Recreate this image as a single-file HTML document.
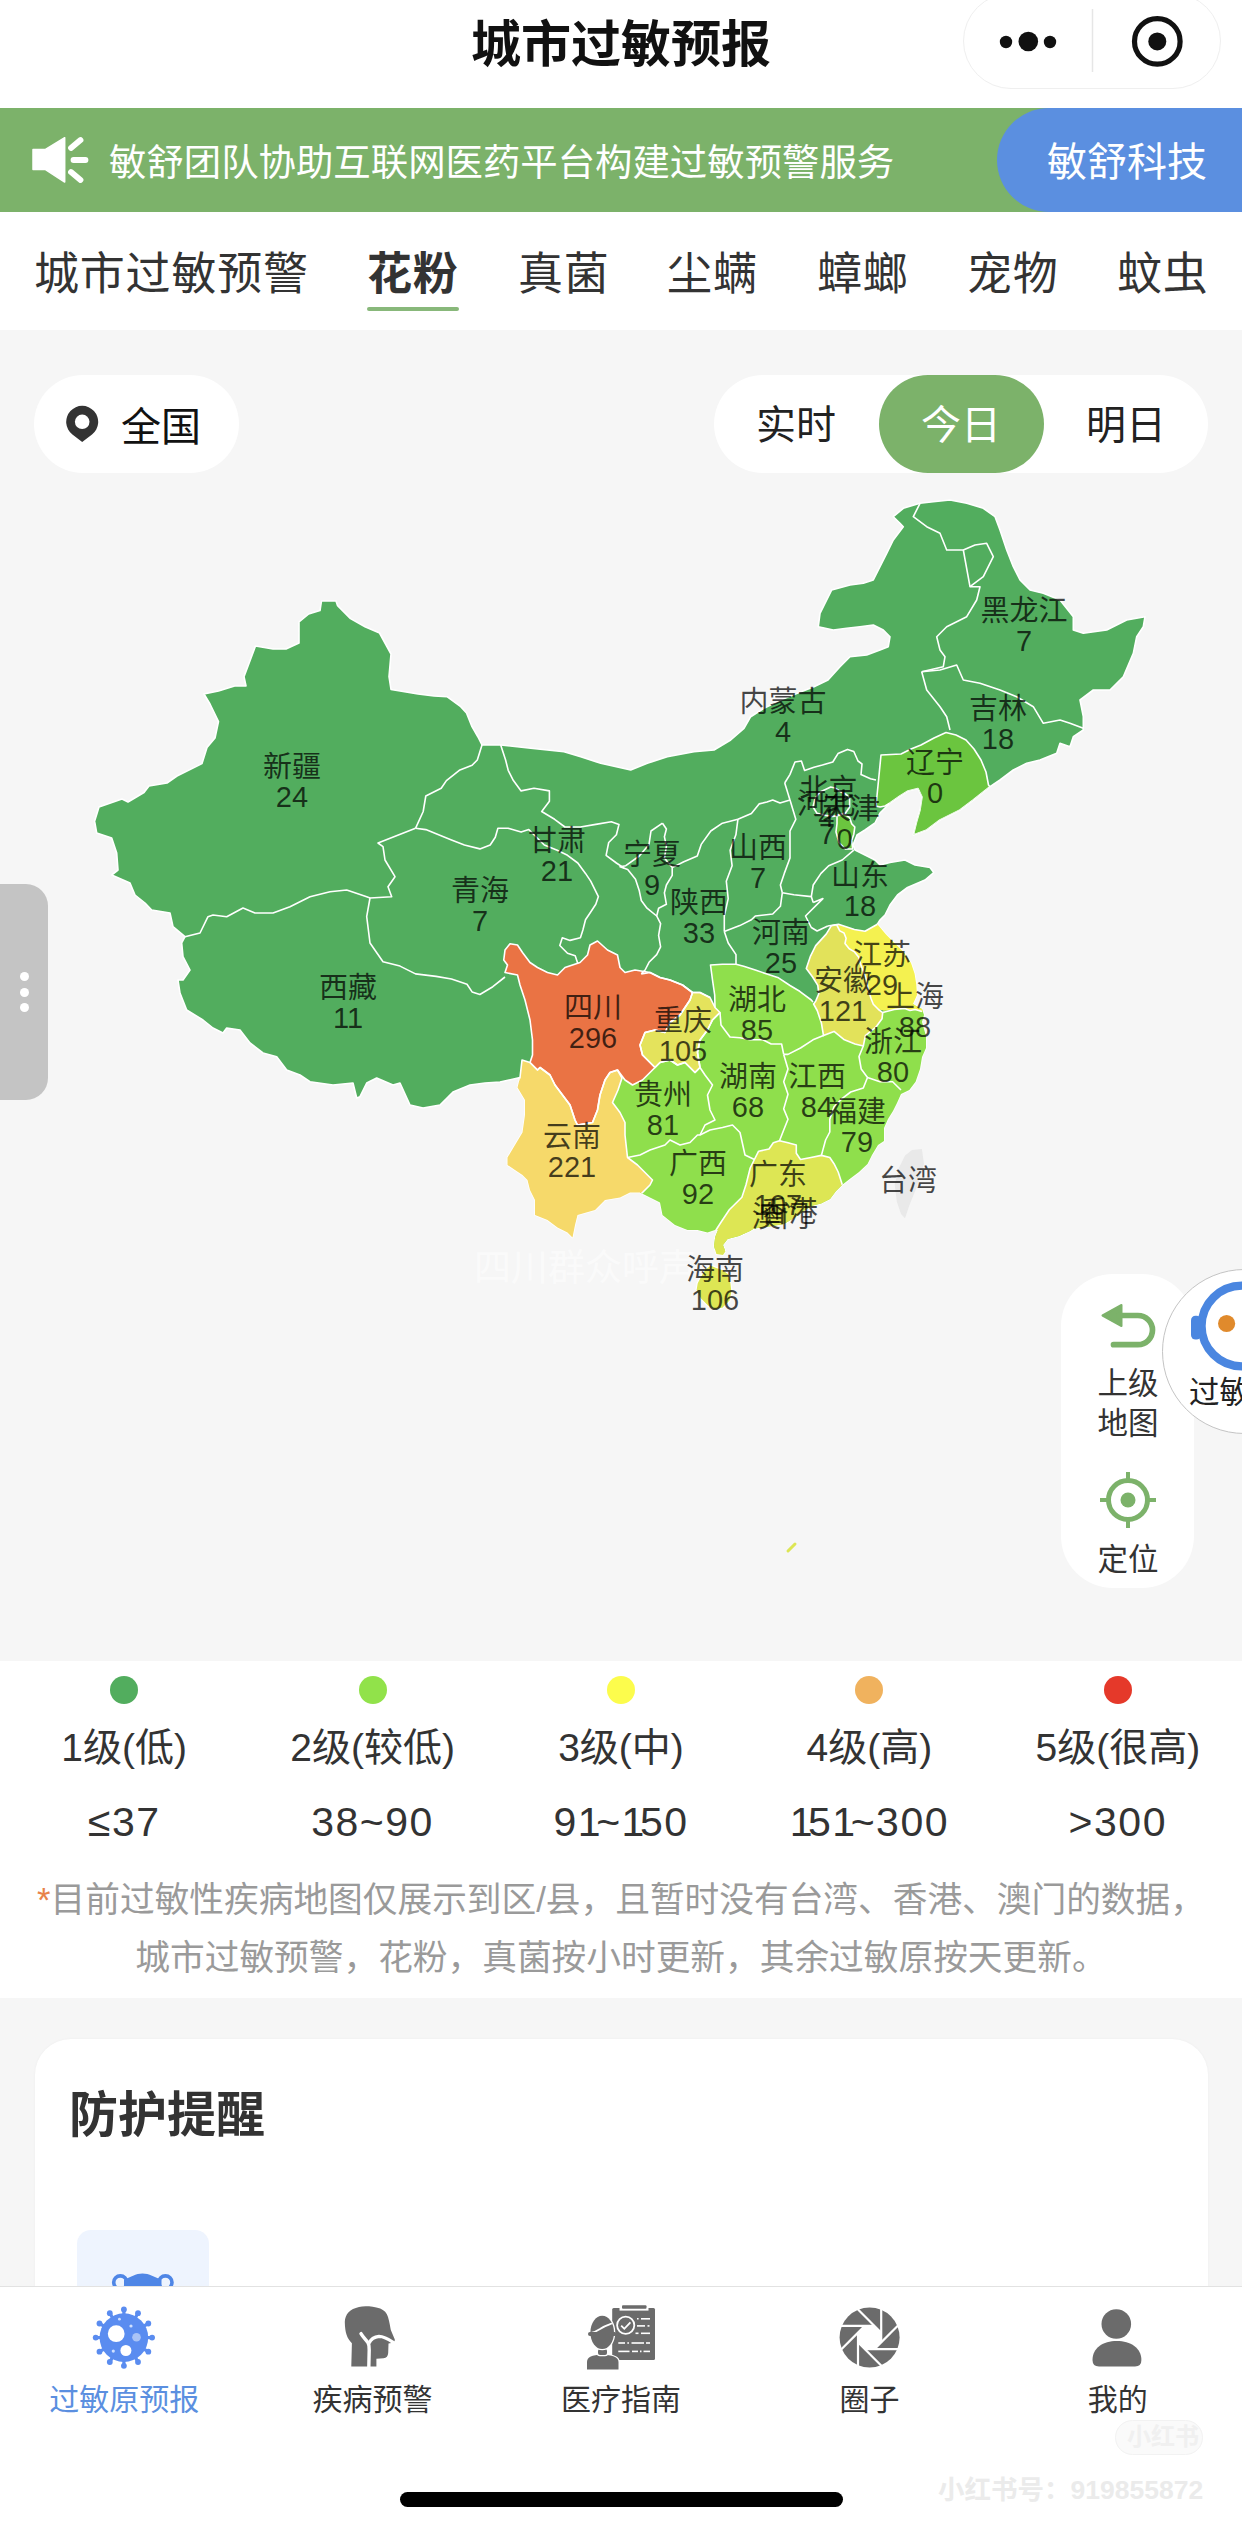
<!DOCTYPE html><html lang="zh-CN"><head><meta charset="utf-8"><title>城市过敏预报</title><style>
*{margin:0;padding:0;box-sizing:border-box}
html,body{width:1242px;height:2532px;overflow:hidden;background:#f6f6f6}
body{position:relative;font-family:"Liberation Sans","Noto Sans CJK SC",sans-serif;color:#333}
.abs{position:absolute}
.nav{left:0;top:0;width:1242px;height:108px;background:#fff}
.title{left:0;width:1242px;top:15px;text-align:center;font-size:50px;font-weight:700;color:#111;line-height:60px}
.capsule{left:963px;top:-7px;width:258px;height:96px;border:1.5px solid #efefef;border-radius:48px;background:#fff}
.banner{left:0;top:108px;width:1242px;height:104px;background:#7cb26a}
.bantext{left:109px;top:135px;font-size:37.4px;line-height:56px;color:#fff;white-space:nowrap}
.pill{left:997px;top:108px;width:300px;height:104px;background:#5b8fe0;border-radius:52px 0 0 52px}
.pilltext{left:1047px;top:132px;font-size:40px;line-height:60px;color:#fff;white-space:nowrap}
.tabs{left:0;top:212px;width:1242px;height:118px;background:#fff}
.tab{top:247px;font-size:45px;line-height:56px;color:#333;white-space:nowrap;letter-spacing:0.8px}
.tab.on{font-weight:700;color:#333}
.uline{left:367px;top:307px;width:92px;height:4px;background:#88b87a;border-radius:2px}
.mapbg{left:0;top:330px;width:1242px;height:1331px;background:#f6f6f6}
.chip{background:#fff;border-radius:49px;height:98px;top:375px}
.map{position:absolute;left:0;top:330px}
.lbl text{font-family:"Liberation Sans","Noto Sans CJK SC",sans-serif;font-size:29px;fill:#000;fill-opacity:0.72;text-anchor:middle}
.legend{left:0;top:1661px;width:1242px;height:337px;background:#fff}
.dot{width:28px;height:28px;border-radius:50%;top:1676px}
.lv{top:1724px;font-size:39px;line-height:48px;color:#333;width:248px;text-align:center;white-space:nowrap}
.rg{top:1797px;font-size:41px;line-height:50px;color:#333;width:248px;text-align:center;white-space:nowrap;letter-spacing:1.5px}
.rg i{font-style:normal;letter-spacing:-4.5px}
.note{left:0;width:1242px;text-align:center;font-size:34.7px;line-height:44px;color:#9a9a9a;white-space:nowrap}
.card{left:35px;top:2039px;width:1173px;height:400px;background:#fff;border-radius:36px;box-shadow:0 0 3px rgba(0,0,0,0.04)}
.cardtitle{left:69px;top:2085px;font-size:49px;line-height:60px;font-weight:700;color:#333}
.tabbar{left:0;top:2285.5px;width:1242px;height:247px;background:#fff;border-top:1.5px solid #e2e2e2}
.tbl{top:2380px;font-size:30px;line-height:40px;color:#333;width:248px;text-align:center;white-space:nowrap}
</style></head><body>
<div class="abs nav"></div>
<div class="abs title">城市过敏预报</div>
<div class="abs capsule"></div>
<svg class="abs" style="left:963px;top:0" width="258" height="90" viewBox="963 0 258 90"><line x1="1092.5" y1="9" x2="1092.5" y2="72" stroke="#e6e6e6" stroke-width="1.5"/><circle cx="1006" cy="42" r="6.2" fill="#111"/><circle cx="1028.3" cy="41.5" r="9.8" fill="#111"/><circle cx="1050" cy="42" r="6.2" fill="#111"/><circle cx="1157.3" cy="41.4" r="22.8" fill="none" stroke="#111" stroke-width="5.2"/><circle cx="1157.3" cy="41.4" r="9" fill="#111"/></svg>
<div class="abs banner"></div>
<svg class="abs" style="left:0;top:108px" width="100" height="104" viewBox="0 108 100 104"><path d="M33 149.5 H45.5 L64.7 137.7 V182.1 L45.5 169.6 H33 Z" fill="#fff" stroke="#fff" stroke-width="1.5" stroke-linejoin="round"/><g stroke="#fff" stroke-width="5.8" stroke-linecap="round"><line x1="71" y1="148" x2="80.5" y2="140"/><line x1="73.5" y1="160" x2="85.5" y2="160"/><line x1="71" y1="172" x2="80.5" y2="180"/></g></svg>
<div class="abs bantext">敏舒团队协助互联网医药平台构建过敏预警服务</div>
<div class="abs pill"></div>
<div class="abs pilltext">敏舒科技</div>
<div class="abs tabs"></div>
<div class="abs tab" style="left:34px">城市过敏预警</div>
<div class="abs tab on" style="left:367px">花粉</div>
<div class="abs tab" style="left:518px">真菌</div>
<div class="abs tab" style="left:667px">尘螨</div>
<div class="abs tab" style="left:817px">蟑螂</div>
<div class="abs tab" style="left:967px">宠物</div>
<div class="abs tab" style="left:1117px">蚊虫</div>
<div class="abs uline"></div>
<div class="abs mapbg"></div>
<div class="abs chip" style="left:34px;width:205px"></div>
<svg class="abs" style="left:60px;top:405px" width="44" height="44" viewBox="60 405 44 44"><path d="M82.2 442 L72.4 434.5 A16 16 0 1 1 92 434.5 Z" fill="#333"/><circle cx="82.2" cy="421.8" r="7.3" fill="#fff"/></svg>
<div class="abs" style="left:121px;top:402px;font-size:40px;line-height:50px;color:#111">全国</div>
<div class="abs chip" style="left:714px;width:494px"></div>
<div class="abs chip" style="left:879px;width:165px;background:#7cb26a"></div>
<div class="abs" style="left:756px;top:400px;font-size:40px;line-height:50px;color:#222">实时</div>
<div class="abs" style="left:921px;top:400px;font-size:40px;line-height:50px;color:#fff">今日</div>
<div class="abs" style="left:1086px;top:400px;font-size:40px;line-height:50px;color:#222">明日</div>
<svg class="map" width="1242" height="1330" viewBox="0 330 1242 1330">
<defs><clipPath id="ml"><polygon points="94.5,821.5 99,807 122,799 128,802 144,792.5 149,786 167,783 177,776 202,763.6 207,747.5 215,738 218.5,721.7 210,704 204,694 218.5,691 234.6,686 246,686 244,676.6 255.5,646 273,649 286,649 299,643 299,622 308.7,614 320,610.6 321.5,601 336,601 337.6,605.8 350.5,618.6 365,626.7 379.5,633 391,654 389,676.6 391,689.5 418,694 434,696 447,696.7 460.7,706.7 466.5,713 472,726.7 478,737 482,745 500.7,745 530.7,748.3 564,751.7 580.7,756.7 600.7,763.3 630.7,770 647.3,763.3 667.3,756.7 694,751.7 714,750 730.7,740 744,728.3 750.7,716.7 764,708.3 780.7,700 797.3,693.3 814,686.7 828,680 840,666.7 850,656.7 866.7,655 880,650 888.3,646.7 890,636.7 883.3,630 873.3,625 860,626.7 846.7,628.3 833.3,630 818.3,626.7 820,613.3 826.7,600 831.7,590 850,585 863.3,583.3 873.3,580 880,566.7 886.7,553.3 893.3,540 903.3,526.7 900,523.3 893.3,516.7 903.3,508.3 920,503.3 933.3,501.7 950,500 966.7,503.3 983.3,508.3 995,516.7 1000,530 1006.7,550 1013.3,566.7 1020,580 1030,590 1043.3,593.3 1060,600 1073.3,616.7 1073.3,630 1083.3,633.3 1106.7,630 1126.7,620 1145,616.7 1143.3,626.7 1136.7,636.7 1133.3,653.3 1123.3,676.7 1110,690 1093.3,690 1080,700 1083.3,716.7 1083.3,730 1073.3,736.7 1070,746.7 1060,743.3 1056.7,753.3 1040,760 1026.7,763.3 1013.3,770 1000,780 990,786.7 973.3,800 960,810 940,820 926.7,830 913.3,835 916.5,822 920,810 922,797 918,788.5 908,791 900,796 890,803 885,808 880,813 875,823 865,830 857,835 853,845 855,850 865,855 875,860 880,865 890,862.5 905,860 915,865 930,867.5 933.75,872.5 925,880 907.5,887.5 897.5,895 890,905 885,915 880,920 877.4,924.2 886.2,934.8 895,943.6 904,952.5 911,963.1 914.6,973.8 916.3,984.4 917,995 913,1004 916,1006 922,1009 924,1015 922,1022 926,1036 926,1048 922,1057 920,1069 915.6,1081.7 909.3,1090 901,1094 897,1103 893,1111 888,1119 884,1128 884,1141 878,1145 872,1155 867.5,1164 859,1172 851,1178 842,1185 836,1191 830,1199 821,1203.5 813,1205.6 805,1210 794,1218 784,1224 769,1226.5 754,1228.6 750,1231 739,1236 727.6,1239 723,1245 725.4,1251.6 723,1255 716.4,1254 714,1246 715.2,1237 718,1230 715,1230 707.5,1232.5 697.5,1230 687.5,1230 675,1225 662.5,1215 660,1202.5 645,1195 640,1192.5 630,1192.5 620,1197.5 605,1200 595,1210 577.5,1215 575,1225 572.5,1237.5 567.5,1232.5 557.5,1227.5 547.5,1220 535,1215 535,1200 530,1190 527.5,1180 522.5,1175 515,1170 507.5,1165 507.5,1157.5 515,1145 522.5,1132.5 525,1115 525,1100 517.5,1087.5 520,1077.5 500,1082 485,1083 470,1085 453,1092 440,1105 423,1108 410,1105 400,1083 393,1085 376.7,1078 366.7,1083 360,1096.7 356.7,1098 353,1083 333,1085 310,1081.7 300,1075 286.7,1070 276.7,1056.7 263,1053 250,1043 240,1030 226.7,1028 223,1033 213,1028 203,1020 186.7,1010 180,993 178,980 183,980 190,970 183,956.7 181.7,943 185,936.7 173,926.7 170,913 151.7,910 145,903 135,895 130,883 111.7,875 118,870 116.7,853 111.7,838 96.7,833 95,823.3"/></clipPath></defs>
<polygon points="94.5,821.5 99,807 122,799 128,802 144,792.5 149,786 167,783 177,776 202,763.6 207,747.5 215,738 218.5,721.7 210,704 204,694 218.5,691 234.6,686 246,686 244,676.6 255.5,646 273,649 286,649 299,643 299,622 308.7,614 320,610.6 321.5,601 336,601 337.6,605.8 350.5,618.6 365,626.7 379.5,633 391,654 389,676.6 391,689.5 418,694 434,696 447,696.7 460.7,706.7 466.5,713 472,726.7 478,737 482,745 500.7,745 530.7,748.3 564,751.7 580.7,756.7 600.7,763.3 630.7,770 647.3,763.3 667.3,756.7 694,751.7 714,750 730.7,740 744,728.3 750.7,716.7 764,708.3 780.7,700 797.3,693.3 814,686.7 828,680 840,666.7 850,656.7 866.7,655 880,650 888.3,646.7 890,636.7 883.3,630 873.3,625 860,626.7 846.7,628.3 833.3,630 818.3,626.7 820,613.3 826.7,600 831.7,590 850,585 863.3,583.3 873.3,580 880,566.7 886.7,553.3 893.3,540 903.3,526.7 900,523.3 893.3,516.7 903.3,508.3 920,503.3 933.3,501.7 950,500 966.7,503.3 983.3,508.3 995,516.7 1000,530 1006.7,550 1013.3,566.7 1020,580 1030,590 1043.3,593.3 1060,600 1073.3,616.7 1073.3,630 1083.3,633.3 1106.7,630 1126.7,620 1145,616.7 1143.3,626.7 1136.7,636.7 1133.3,653.3 1123.3,676.7 1110,690 1093.3,690 1080,700 1083.3,716.7 1083.3,730 1073.3,736.7 1070,746.7 1060,743.3 1056.7,753.3 1040,760 1026.7,763.3 1013.3,770 1000,780 990,786.7 973.3,800 960,810 940,820 926.7,830 913.3,835 916.5,822 920,810 922,797 918,788.5 908,791 900,796 890,803 885,808 880,813 875,823 865,830 857,835 853,845 855,850 865,855 875,860 880,865 890,862.5 905,860 915,865 930,867.5 933.75,872.5 925,880 907.5,887.5 897.5,895 890,905 885,915 880,920 877.4,924.2 886.2,934.8 895,943.6 904,952.5 911,963.1 914.6,973.8 916.3,984.4 917,995 913,1004 916,1006 922,1009 924,1015 922,1022 926,1036 926,1048 922,1057 920,1069 915.6,1081.7 909.3,1090 901,1094 897,1103 893,1111 888,1119 884,1128 884,1141 878,1145 872,1155 867.5,1164 859,1172 851,1178 842,1185 836,1191 830,1199 821,1203.5 813,1205.6 805,1210 794,1218 784,1224 769,1226.5 754,1228.6 750,1231 739,1236 727.6,1239 723,1245 725.4,1251.6 723,1255 716.4,1254 714,1246 715.2,1237 718,1230 715,1230 707.5,1232.5 697.5,1230 687.5,1230 675,1225 662.5,1215 660,1202.5 645,1195 640,1192.5 630,1192.5 620,1197.5 605,1200 595,1210 577.5,1215 575,1225 572.5,1237.5 567.5,1232.5 557.5,1227.5 547.5,1220 535,1215 535,1200 530,1190 527.5,1180 522.5,1175 515,1170 507.5,1165 507.5,1157.5 515,1145 522.5,1132.5 525,1115 525,1100 517.5,1087.5 520,1077.5 500,1082 485,1083 470,1085 453,1092 440,1105 423,1108 410,1105 400,1083 393,1085 376.7,1078 366.7,1083 360,1096.7 356.7,1098 353,1083 333,1085 310,1081.7 300,1075 286.7,1070 276.7,1056.7 263,1053 250,1043 240,1030 226.7,1028 223,1033 213,1028 203,1020 186.7,1010 180,993 178,980 183,980 190,970 183,956.7 181.7,943 185,936.7 173,926.7 170,913 151.7,910 145,903 135,895 130,883 111.7,875 118,870 116.7,853 111.7,838 96.7,833 95,823.3" fill="#52ad5e" stroke="#fff" stroke-width="1.6" stroke-linejoin="round"/>
<g clip-path="url(#ml)">
<polygon points="710,965 722,964.3 736,964.3 743.7,966.2 755.3,970 766.9,974 778.5,977.8 790,985.5 799.7,991.3 811.3,1000 813,1002 817.2,1010.5 821.4,1023 823.5,1035.6 834,1031.4 844.4,1039.8 855,1044 863.3,1046 865.4,1035.6 875.8,1027.2 882,1018.8 883.8,1006 894.2,1004 960,1004 960,1250 640,1250 640,1192.5 650,1185 652.5,1180 645,1172.5 637.5,1165 627.5,1157.5 625,1135 625,1122.5 620,1112.5 612.5,1102.5 618,1090 622,1078 617.5,1070 650,1060 690,1040 712,1020 715,1007.5 714.7,995 712.5,980 710.5,965" fill="#8fdf4c"/>
<polygon points="842.3,1184.7 838.2,1172 834,1163.7 829.8,1157.5 821.4,1155.4 811,1157.5 800.5,1159.5 796.3,1153.3 796.3,1145 788,1142.8 779.5,1140.7 773.3,1142.8 769,1149 758.6,1151.2 754.4,1159.5 750.2,1168 746,1184.7 741.9,1197.2 729.3,1209.8 721,1222.3 716,1230 700,1270 780,1270 880,1200" fill="#dde654"/>
<polygon points="827.8,926 838.5,924.2 854.4,929.5 865,931.3 877.4,924.2 960,924 960,1012 920.4,1011.6 915.2,1009.5 910,1010.5 904.7,1008.4 894.2,1009.5 883.8,1010.5 878.5,1009.5 873.3,1004.2 871.2,999 868.1,989.6 867,981.2 863.9,972.8 860.7,964.5 858.6,957.1 854.5,951.9 849.2,948.7 845,943.5 846.1,938.3 844,933 839.8,930.9 836.6,924.7" fill="#f4f150"/>
<polygon points="831.4,925.7 836.6,924.7 839.8,930.9 844,933 846.1,938.3 845,943.5 849.2,948.7 854.5,951.9 858.6,957.1 860.7,964.5 863.9,972.8 867,981.2 868.1,989.6 871.2,999 873.3,1004.2 878.5,1009.5 882.7,1012.6 882,1018.8 875.8,1027.2 865.4,1035.6 863.3,1046 855,1044 844.4,1039.8 834,1031.4 823.5,1035.6 821.4,1023 817.2,1010.5 813.6,1004 815.7,1001.1 818.8,993.8 817.8,985.4 812.6,977 806.3,968.6 810.5,956.1 815.7,945.6 826.2,934.1" fill="#e2e25a"/>
<polygon points="522,1060 530,1062.5 537.5,1070 540,1067.5 550,1075 555,1085 562.5,1095 570,1105 575,1120 577.5,1125 592.5,1122.5 597.5,1110 600,1095 605,1080 610,1072.5 617.5,1070 622,1078 618,1090 612.5,1102.5 620,1112.5 625,1122.5 625,1135 627.5,1157.5 637.5,1165 645,1172.5 652.5,1180 650,1185 640,1195 600,1260 500,1260 500,1092 515,1086 520,1077.5" fill="#f6d96a"/>
<polygon points="692.5,992.5 700,992.5 710,997.5 715,1007.5 720,1012.5 712.5,1020 707.5,1030 700,1040 697.5,1052.5 700,1067.5 695,1072.5 685,1062.5 677.5,1065 670,1060 660,1062.5 655,1067.5 650,1062.5 642.5,1055 640,1045 645,1032.5 655,1030 665,1032.5 670,1022.5 680,1015 690,1000" fill="#e4e35c"/>
<polygon points="510,943.75 505,950 503.75,960 507.5,965 505,972.5 517.5,975 520,985 525,1000 530,1020 532.5,1040 532.5,1055 530,1062.5 537.5,1070 540,1067.5 550,1075 555,1085 562.5,1095 570,1105 575,1120 577.5,1125 592.5,1122.5 597.5,1110 600,1095 605,1080 610,1072.5 617.5,1070 625,1080 632.5,1085 642.5,1080 650,1072.5 655,1067.5 650,1062.5 642.5,1055 640,1045 645,1032.5 655,1030 665,1032.5 670,1022.5 680,1015 690,1000 692.5,992.5 682.5,985 670,980 660,977.5 650,972.5 635,970 625,972.5 620,967.5 617.5,955 607.5,950 597.5,941 590,945 587.5,955 580,962.5 572.5,965 565,967.5 557.5,975 547.5,972.5 537.5,967.5 530,962.5 522.5,952.5 517.5,945" fill="#ea7344" stroke="#fff" stroke-width="1.6" stroke-linejoin="round"/>
<polygon points="876,806 881,755 891,754.5 901,754 911,749 921,745 934,738 946,732.5 956,735 966,740 974,749 981,760 986,772 988.5,785 990,786.7 973.3,800 960,810 940,820 926.7,830 913.3,835 916.5,822 920,810 922,797 918,788.5 908,791 900,796 890,803 885,806 880,807" fill="#6bc53f" stroke="#fff" stroke-width="1.6" stroke-linejoin="round"/>
<polygon points="837,815.4 843.3,813.3 849.6,817.5 851.7,823.8 854.8,827 853.8,834.2 851.7,840.5 852.7,849 845.4,849 839,842.6 836,832 837,823.8" fill="#6bc53f" stroke="#fff" stroke-width="1.6"/>
<polygon points="692.5,992.5 700,992.5 710,997.5 715,1007.5 720,1012.5 712.5,1020 707.5,1030 700,1040 697.5,1052.5 700,1067.5 695,1072.5 685,1062.5 677.5,1065 670,1060 660,1062.5 655,1067.5 650,1062.5 642.5,1055 640,1045 645,1032.5 655,1030 665,1032.5 670,1022.5 680,1015 690,1000" fill="none" stroke="#fff" stroke-width="1.6" stroke-linejoin="round"/>
<polygon points="831.4,925.7 836.6,924.7 839.8,930.9 844,933 846.1,938.3 845,943.5 849.2,948.7 854.5,951.9 858.6,957.1 860.7,964.5 863.9,972.8 867,981.2 868.1,989.6 871.2,999 873.3,1004.2 878.5,1009.5 882.7,1012.6 882,1018.8 875.8,1027.2 865.4,1035.6 863.3,1046 855,1044 844.4,1039.8 834,1031.4 823.5,1035.6 821.4,1023 817.2,1010.5 813.6,1004 815.7,1001.1 818.8,993.8 817.8,985.4 812.6,977 806.3,968.6 810.5,956.1 815.7,945.6 826.2,934.1" fill="none" stroke="#fff" stroke-width="1.6" stroke-linejoin="round"/>
<polygon points="522,1060 530,1062.5 537.5,1070 540,1067.5 550,1075 555,1085 562.5,1095 570,1105 575,1120 577.5,1125 592.5,1122.5 597.5,1110 600,1095 605,1080 610,1072.5 617.5,1070 622,1078 618,1090 612.5,1102.5 620,1112.5 625,1122.5 625,1135 627.5,1157.5 637.5,1165 645,1172.5 652.5,1180 650,1185 640,1195 600,1260 500,1260 500,1092 515,1086 520,1077.5" fill="none" stroke="#fff" stroke-width="1.6" stroke-linejoin="round"/>
<polygon points="842.3,1184.7 838.2,1172 834,1163.7 829.8,1157.5 821.4,1155.4 811,1157.5 800.5,1159.5 796.3,1153.3 796.3,1145 788,1142.8 779.5,1140.7 773.3,1142.8 769,1149 758.6,1151.2 754.4,1159.5 750.2,1168 746,1184.7 741.9,1197.2 729.3,1209.8 721,1222.3 716,1230 700,1270 780,1270 880,1200" fill="none" stroke="#fff" stroke-width="1.6" stroke-linejoin="round"/>
<polyline points="185,936.7 200,933 208,916.7 213,915 226.7,916.7 243,908 255,913 273,913 290,906.7 310,896.7 330,891.7 346.7,890 366.7,896.7 370,898" fill="none" stroke="#fff" stroke-width="1.6" stroke-linejoin="round"/>
<polyline points="370,898 391.7,896.7 388,886.7 395,876.7 385,860 383,846.7 378,843 415.5,828.3" fill="none" stroke="#fff" stroke-width="1.6" stroke-linejoin="round"/>
<polyline points="415.5,828.3 423.2,811.5 425.8,796 441.2,788.3 446.4,780.6 459.3,770.3 472.1,765.2 477.3,760 482,745" fill="none" stroke="#fff" stroke-width="1.6" stroke-linejoin="round"/>
<polyline points="415.5,828.3 425.8,829.6 438.6,834.7 451.5,839.9 464.4,845 479.9,848.9 490.2,845 495.3,837.3 497.9,828.3 508.2,828.3 521.1,832.1 528.8,829.6 534,834.7 544.3,845 557.2,850.2 567.5,855.3 577.8,863 585.5,873.4 590.7,881.1 598.4,896.6 595.8,904.3 590.7,912 585.5,919.8 582.9,930 580.4,937.8 570,940.4 562.3,937.8 559.8,945.5 567.5,953.2 575.2,955.8 577.8,963.6" fill="none" stroke="#fff" stroke-width="1.6" stroke-linejoin="round"/>
<polyline points="370,898 366.7,916.7 370,943 383,961.7 400,966.1 415.5,973.9 436.1,976.4 451.5,979 467,984.2 472.1,991.9 479.9,994.5 492.8,986.7 505,977" fill="none" stroke="#fff" stroke-width="1.6" stroke-linejoin="round"/>
<polyline points="500.7,745 505.6,760 508.2,770.3 513.4,780.6 521.1,790.9 534,788.3 549.4,790.9 549.4,801.2 541.7,811.5 554.6,819.3 564.9,827 580.4,827 595.8,824.4 611.3,821.8 619,824.4 616.4,834.7 608.7,842.5 606.1,855.3 616.4,863 624.2,868.2" fill="none" stroke="#fff" stroke-width="1.6" stroke-linejoin="round"/>
<polyline points="662.5,823.2 651,831 649,844.4 639.3,856 625.8,865.7 620,866.7 627.7,869.6 635.5,879.2 639.3,890.8 641.3,900.5 647,908.2 656.7,916 658.6,908.2 666.4,904.3 664.4,892.8 666.4,885 672.2,875.4 672.2,867.6 664.4,858 666.4,846.4 664.4,836.7 666.4,829 662.5,823.2" fill="none" stroke="#fff" stroke-width="1.6" stroke-linejoin="round"/>
<polyline points="672.2,867.6 683.8,861.8 697.3,856 701.2,844.4 710.8,831 722.4,823.2 737.9,819.3" fill="none" stroke="#fff" stroke-width="1.6" stroke-linejoin="round"/>
<polyline points="737.9,819.3 751.4,813.5 759.1,803.9 766.9,802 772.7,800 780,803 790,800" fill="none" stroke="#fff" stroke-width="1.6" stroke-linejoin="round"/>
<polyline points="737.9,819.3 735.9,834.8 730.1,850.2 732.1,865.7 726.3,881.2 728.2,898.6 724.3,916 724.3,931.4" fill="none" stroke="#fff" stroke-width="1.6" stroke-linejoin="round"/>
<polyline points="790,800 795.8,819.3 790,831 790,858 784.3,873.4 780.4,885 782.3,892.8" fill="none" stroke="#fff" stroke-width="1.6" stroke-linejoin="round"/>
<polyline points="724.3,931.4 739.8,925.6 751.4,919.8 755.3,916 772.7,914 780.4,906.3 782.3,892.8" fill="none" stroke="#fff" stroke-width="1.6" stroke-linejoin="round"/>
<polyline points="782.3,892.8 793.9,894.7 811.3,896.6 813.2,902.4" fill="none" stroke="#fff" stroke-width="1.6" stroke-linejoin="round"/>
<polyline points="811.3,896.6 813.2,885 821,873.4 828.7,865.7 842.2,860 853.8,850.2" fill="none" stroke="#fff" stroke-width="1.6" stroke-linejoin="round"/>
<polyline points="813.2,902.4 822.9,898.6 805.5,916 811.3,927.5 817.1,931 827.8,926" fill="none" stroke="#fff" stroke-width="1.6" stroke-linejoin="round"/>
<polyline points="827.8,926 838.5,924.2 854.4,929.5 865,931.3 877.4,924.2" fill="none" stroke="#fff" stroke-width="1.6" stroke-linejoin="round"/>
<polyline points="724.3,931.4 728.2,943 736,954.6 736,964.3" fill="none" stroke="#fff" stroke-width="1.6" stroke-linejoin="round"/>
<polyline points="736,964.3 743.7,966.2 755.3,970 766.9,974 778.5,977.8 790,985.5 799.7,991.3 811.3,1000 813,1002" fill="none" stroke="#fff" stroke-width="1.6" stroke-linejoin="round"/>
<polyline points="736,964.3 722.4,964.3 710.5,965 712.5,980 714.7,995 715,1007.5" fill="none" stroke="#fff" stroke-width="1.6" stroke-linejoin="round"/>
<polyline points="641.3,973.9 650,972.5 660,977.5 670,980 682.5,985 692.5,992.5 700,992.5 710,997.5" fill="none" stroke="#fff" stroke-width="1.6" stroke-linejoin="round"/>
<polyline points="656.7,916 660.6,923.7 658.6,935.3 660.6,946.9 656.7,954.6 649,962.3 645.1,970 641.3,973.9" fill="none" stroke="#fff" stroke-width="1.6" stroke-linejoin="round"/>
<polyline points="784.7,783 789.9,774.6 795,762 801.4,761 804.6,770.4 814,767.2 822.4,765 832.8,762 838,753.6 847.5,749.4 853.8,751.5 858,761 862,764 861,774.6 870.5,778.7 876,780" fill="none" stroke="#fff" stroke-width="1.6" stroke-linejoin="round"/>
<polyline points="784.7,783 790,800" fill="none" stroke="#fff" stroke-width="1.6" stroke-linejoin="round"/>
<polyline points="820,792 826.5,789 830.7,787 835,788 841,792 846.4,794.5 849.6,798.6 849.6,807 845.4,813.3 839,815.4 832.8,816.4 825.5,815.4 817,813.3 813,807 815,798.6 820,792" fill="none" stroke="#fff" stroke-width="1.6" stroke-linejoin="round"/>
<polyline points="720,1012.5 721,1025 730,1037 740,1037.7 750.2,1039.8 762.8,1039.8 771.2,1044 781.6,1044 783.7,1054.4" fill="none" stroke="#fff" stroke-width="1.6" stroke-linejoin="round"/>
<polyline points="783.7,1054.4 788,1054.4 800.5,1048 813,1039.8 823.5,1035.6" fill="none" stroke="#fff" stroke-width="1.6" stroke-linejoin="round"/>
<polyline points="783.7,1054.4 788,1069 783.7,1081.7 788,1094.2 783.7,1108.9 788,1119.3 783.7,1130 779.5,1140.7" fill="none" stroke="#fff" stroke-width="1.6" stroke-linejoin="round"/>
<polyline points="863.3,1046 859,1056.5 861.2,1069 867.5,1077.5 863.3,1088 850.7,1092 842.3,1098.4 834,1106.8 829.8,1119.3 829.8,1132 825.6,1140 821.4,1155.4" fill="none" stroke="#fff" stroke-width="1.6" stroke-linejoin="round"/>
<polyline points="882.7,1012.6 894.2,1009.5 904.7,1008.4 910,1010.5 915.2,1009.5 922,1011.6" fill="none" stroke="#fff" stroke-width="1.6" stroke-linejoin="round"/>
<polyline points="867.5,1077.5 880,1081.7 892.6,1081.7 901,1090" fill="none" stroke="#fff" stroke-width="1.6" stroke-linejoin="round"/>
<polyline points="720,1012.5 712.5,1020 707.5,1030 700,1040 697.5,1052.5 700,1067.5 705,1075 712.5,1085 707.5,1095 710,1110 715,1120 705,1125 700,1135" fill="none" stroke="#fff" stroke-width="1.6" stroke-linejoin="round"/>
<polyline points="627.5,1157.5 640,1155 650,1150 665,1145 670,1140 680,1145 690,1142.5 697.5,1135 700,1135 710,1130 722.5,1127.5 732.5,1125 740,1132.5 745,1155 754.4,1159.5" fill="none" stroke="#fff" stroke-width="1.6" stroke-linejoin="round"/>
<polyline points="655,1067.5 660,1062.5 670,1060 677.5,1065 685,1062.5 695,1072.5 700,1067.5" fill="none" stroke="#fff" stroke-width="1.6" stroke-linejoin="round"/>
<polyline points="920,503.3 913.3,516.7 926.7,526.7 940,533.3 946.7,550 963.3,550 970,586.7 980,586.7 976.7,600 966.7,616.7 946.7,626.7 936.7,636.7 940,650 945,656.7 943.3,666.7 921.7,671.7" fill="none" stroke="#fff" stroke-width="1.6" stroke-linejoin="round"/>
<polyline points="963.3,550 975,545 986.7,543.3 993.3,556.7 983.3,576.7 970,586.7" fill="none" stroke="#fff" stroke-width="1.6" stroke-linejoin="round"/>
<polyline points="921.7,671.7 940,670 956.7,665 963.3,680 980,683.3 1000,690 1016.7,696.7 1033.3,706.7 1043.3,723.3 1060,720 1070,723.3 1083.3,728.3" fill="none" stroke="#fff" stroke-width="1.6" stroke-linejoin="round"/>
<polyline points="921.7,671.7 926.7,690 940,706.7 946.7,716.7 950,730" fill="none" stroke="#fff" stroke-width="1.6" stroke-linejoin="round"/>
</g>
<polygon points="710.7,1265 716.4,1267.4 723,1269.6 728.8,1274 731,1283 732,1292 730,1301 723,1308 714,1310 707.4,1305.7 700.6,1299 696,1290 697.2,1283 700.6,1276.4 705,1269" fill="#dde654" stroke="#fff" stroke-width="1.2"/>
<polygon points="905.1,1155.4 912,1150 921.9,1149 924,1163.7 917.7,1184.7 909.3,1205.6 905,1218.2 901,1214 896.8,1201.4 894.7,1184.7 898.9,1168" fill="#e9e9e9"/>
<line x1="788" y1="1551" x2="795" y2="1544" stroke="#dde654" stroke-width="3" stroke-linecap="round"/>
<text x="585" y="1281" font-size="37" fill="#ffffff" fill-opacity="0.55" text-anchor="middle" font-family="Liberation Sans, Noto Sans CJK SC, sans-serif">四川群众呼声</text>
<g class="lbl">
<text x="1024" y="621">黑龙江</text><text x="1024" y="651">7</text>
<text x="783" y="712">内蒙古</text><text x="783" y="742">4</text>
<text x="998" y="719">吉林</text><text x="998" y="749">18</text>
<text x="292" y="777">新疆</text><text x="292" y="807">24</text>
<text x="935" y="773">辽宁</text><text x="935" y="803">0</text>
<text x="557" y="851">甘肃</text><text x="557" y="881">21</text>
<text x="652" y="865">宁夏</text><text x="652" y="895">9</text>
<text x="758" y="858">山西</text><text x="758" y="888">7</text>
<text x="860" y="886">山东</text><text x="860" y="916">18</text>
<text x="480" y="901">青海</text><text x="480" y="931">7</text>
<text x="699" y="913">陕西</text><text x="699" y="943">33</text>
<text x="781" y="943">河南</text><text x="781" y="973">25</text>
<text x="348" y="998">西藏</text><text x="348" y="1028">11</text>
<text x="593" y="1018">四川</text><text x="593" y="1048">296</text>
<text x="757" y="1010">湖北</text><text x="757" y="1040">85</text>
<text x="683" y="1031">重庆</text><text x="683" y="1061">105</text>
<text x="893" y="1052">浙江</text><text x="893" y="1082">80</text>
<text x="748" y="1087">湖南</text><text x="748" y="1117">68</text>
<text x="817" y="1087">江西</text><text x="817" y="1117">84</text>
<text x="663" y="1105">贵州</text><text x="663" y="1135">81</text>
<text x="857" y="1122">福建</text><text x="857" y="1152">79</text>
<text x="572" y="1147">云南</text><text x="572" y="1177">221</text>
<text x="698" y="1174">广西</text><text x="698" y="1204">92</text>
<text x="778" y="1185">广东</text><text x="778" y="1215">107</text>
<text x="715" y="1280">海南</text><text x="715" y="1310">106</text>
<text x="882" y="965">江苏</text><text x="882" y="995">29</text>
<text x="843" y="991">安徽</text><text x="843" y="1021">121</text>
<text x="915" y="1007">上海</text><text x="915" y="1037">88</text>
<text x="908" y="1191">台湾</text>
<text x="788.8" y="1222">香港</text><text x="780.8" y="1227.3">澳门</text>
<text x="828.5" y="799.5">北京</text><text x="826" y="813.5">河北</text><text x="851" y="818.5">天津</text>
<text x="826.4" y="827.4">4</text><text x="827" y="843.5">7</text><text x="844.6" y="848.8">0</text>
</g>
</svg>
<div class="abs" style="left:-30px;top:884px;width:78px;height:216px;background:#c4c4c4;border-radius:22px"></div>
<div class="abs" style="left:19.5px;top:972.0px;width:9px;height:9px;border-radius:50%;background:#fff"></div>
<div class="abs" style="left:19.5px;top:987.5px;width:9px;height:9px;border-radius:50%;background:#fff"></div>
<div class="abs" style="left:19.5px;top:1002.5px;width:9px;height:9px;border-radius:50%;background:#fff"></div>
<div class="abs" style="left:1061px;top:1274px;width:133px;height:314px;background:#fff;border-radius:52px"></div>
<div class="abs" style="left:1161.5px;top:1269.3px;width:165px;height:165px;background:#fff;border-radius:50%;border:1.2px solid #c4c4c4"></div>
<svg class="abs" style="left:1090px;top:1265px" width="152" height="310" viewBox="1090 1265 152 310"><path d="M1102.5 1315.5 L1121.5 1305 V1326 Z" fill="#7cb26a" stroke="#7cb26a" stroke-width="2" stroke-linejoin="round"/><path d="M1119 1315.5 H1137.9 A14.6 14.6 0 0 1 1137.9 1344.7 H1113.5" fill="none" stroke="#7cb26a" stroke-width="5.7" stroke-linecap="round"/><circle cx="1128" cy="1500" r="19.5" fill="none" stroke="#7cb26a" stroke-width="5"/><circle cx="1128" cy="1500" r="7.5" fill="#7cb26a"/><g stroke="#7cb26a" stroke-width="4"><line x1="1128" y1="1472" x2="1128" y2="1480"/><line x1="1128" y1="1520" x2="1128" y2="1528"/><line x1="1100" y1="1500" x2="1108" y2="1500"/><line x1="1148" y1="1500" x2="1156" y2="1500"/></g><circle cx="1241.9" cy="1326" r="40.3" fill="none" stroke="#4a86e0" stroke-width="8.2"/><rect x="1191" y="1315.7" width="10" height="23.8" rx="4.5" fill="#4a86e0"/><circle cx="1226.6" cy="1323.5" r="8.6" fill="#e08a2c"/></svg>
<div class="abs" style="left:1096px;top:1364px;font-size:30.5px;line-height:39.5px;color:#333;width:64px;text-align:center">上级<br>地图</div>
<div class="abs" style="left:1096px;top:1539px;font-size:30.5px;line-height:40px;color:#333;width:64px;text-align:center">定位</div>
<div class="abs" style="left:1189px;top:1372px;font-size:30.5px;line-height:40px;color:#222;white-space:nowrap">过敏</div>
<div class="abs legend"></div>
<div class="abs dot" style="left:110.2px;background:#52ad5e"></div>
<div class="abs lv" style="left:0.2px">1级(低)</div>
<div class="abs rg" style="left:0.2px">≤37</div>
<div class="abs dot" style="left:358.6px;background:#91e24a"></div>
<div class="abs lv" style="left:248.6px">2级(较低)</div>
<div class="abs rg" style="left:248.6px">38~90</div>
<div class="abs dot" style="left:607.0px;background:#fcfc4c"></div>
<div class="abs lv" style="left:497.0px">3级(中)</div>
<div class="abs rg" style="left:497.0px">9<i>1</i>~<i>1</i>50</div>
<div class="abs dot" style="left:855.4px;background:#f0b25e"></div>
<div class="abs lv" style="left:745.4px">4级(高)</div>
<div class="abs rg" style="left:745.4px"><i>1</i>5<i>1</i>~300</div>
<div class="abs dot" style="left:1103.8px;background:#e5392a"></div>
<div class="abs lv" style="left:993.8px">5级(很高)</div>
<div class="abs rg" style="left:993.8px">&gt;300</div>
<div class="abs note" style="top:1878px"><span style="color:#e8834a">*</span>目前过敏性疾病地图仅展示到区/县，且暂时没有台湾、香港、澳门的数据，</div>
<div class="abs note" style="top:1936px">城市过敏预警，花粉，真菌按小时更新，其余过敏原按天更新。</div>
<div class="abs card"></div>
<div class="abs cardtitle">防护提醒</div>
<div class="abs" style="left:77px;top:2229.5px;width:131.5px;height:132px;background:#eef4fe;border-radius:14px"></div>
<svg class="abs" style="left:100px;top:2262px" width="90" height="30" viewBox="100 2262 90 30"><circle cx="120.3" cy="2282.5" r="6.6" fill="none" stroke="#4f86e6" stroke-width="3.6"/><circle cx="165.4" cy="2282.5" r="6.6" fill="none" stroke="#4f86e6" stroke-width="3.6"/><path d="M124 2280 C130 2277 136 2273.5 142.5 2273.5 C149 2273.5 155 2277 161.5 2280 L161.5 2292 L124 2292 Z" fill="#4f86e6"/></svg>
<div class="abs tabbar"></div>
<div class="abs tbl" style="left:0.2px;color:#5b8fe0">过敏原预报</div>
<div class="abs tbl" style="left:248.6px;color:#333">疾病预警</div>
<div class="abs tbl" style="left:497.0px;color:#333">医疗指南</div>
<div class="abs tbl" style="left:745.4px;color:#333">圈子</div>
<div class="abs tbl" style="left:993.8px;color:#333">我的</div>
<svg class="abs" style="left:0;top:2290px" width="1242" height="90" viewBox="0 2290 1242 90">
<g fill="#5a8cf0" stroke="#5a8cf0">
<line x1="123.90" y1="2315.60" x2="123.90" y2="2309.40" stroke-width="3.2"/>
<circle cx="123.90" cy="2309.40" r="2.9" stroke="none"/>
<line x1="134.90" y1="2318.55" x2="138.00" y2="2313.18" stroke-width="3.2"/>
<circle cx="138.00" cy="2313.18" r="2.9" stroke="none"/>
<line x1="142.95" y1="2326.60" x2="148.32" y2="2323.50" stroke-width="3.2"/>
<circle cx="148.32" cy="2323.50" r="2.9" stroke="none"/>
<line x1="145.90" y1="2337.60" x2="152.10" y2="2337.60" stroke-width="3.2"/>
<circle cx="152.10" cy="2337.60" r="2.9" stroke="none"/>
<line x1="142.95" y1="2348.60" x2="148.32" y2="2351.70" stroke-width="3.2"/>
<circle cx="148.32" cy="2351.70" r="2.9" stroke="none"/>
<line x1="134.90" y1="2356.65" x2="138.00" y2="2362.02" stroke-width="3.2"/>
<circle cx="138.00" cy="2362.02" r="2.9" stroke="none"/>
<line x1="123.90" y1="2359.60" x2="123.90" y2="2365.80" stroke-width="3.2"/>
<circle cx="123.90" cy="2365.80" r="2.9" stroke="none"/>
<line x1="112.90" y1="2356.65" x2="109.80" y2="2362.02" stroke-width="3.2"/>
<circle cx="109.80" cy="2362.02" r="2.9" stroke="none"/>
<line x1="104.85" y1="2348.60" x2="99.48" y2="2351.70" stroke-width="3.2"/>
<circle cx="99.48" cy="2351.70" r="2.9" stroke="none"/>
<line x1="101.90" y1="2337.60" x2="95.70" y2="2337.60" stroke-width="3.2"/>
<circle cx="95.70" cy="2337.60" r="2.9" stroke="none"/>
<line x1="104.85" y1="2326.60" x2="99.48" y2="2323.50" stroke-width="3.2"/>
<circle cx="99.48" cy="2323.50" r="2.9" stroke="none"/>
<line x1="112.90" y1="2318.55" x2="109.80" y2="2313.18" stroke-width="3.2"/>
<circle cx="109.80" cy="2313.18" r="2.9" stroke="none"/>
</g>
<circle cx="123.9" cy="2337.6" r="24.3" fill="#5a8cf0"/>
<circle cx="116.2" cy="2333.7" r="8.4" fill="#fff"/><circle cx="125.9" cy="2350.5" r="5.5" fill="#fff"/><circle cx="136.5" cy="2337.3" r="4.3" fill="#a9c3f6"/><circle cx="119.4" cy="2319.2" r="1.4" fill="#cfe0ff"/><circle cx="131" cy="2326" r="1.6" fill="#cfe0ff"/><circle cx="113.3" cy="2351.1" r="1.6" fill="#cfe0ff"/>
<path d="M351.3 2366.5 L351.9 2343.3 C347 2338 345 2333 344.8 2322 C345 2314 350 2309 359 2306.9 C364 2306 372 2306 380.2 2308.5 C384 2310 387 2313 388 2317 C389.5 2322 390.2 2327 390.8 2330 L394.8 2339.5 C395 2341 394 2342.5 392.5 2342.7 L388.5 2343.5 L388.2 2353 C388 2356 386.5 2358 383.5 2358.3 L376.4 2358.8 L376.4 2366.5 Z" fill="#6b6b6b"/>
<path d="M361 2333.6 C363 2337 366 2340 368 2342.7 C369.3 2345 369.3 2347 369.2 2350 L368.8 2368" fill="none" stroke="#fff" stroke-width="3.4" stroke-linecap="round"/>
<path d="M369 2343 C371 2339 374 2337 379 2336.4 C384 2336.4 389 2339.5 393.5 2342.6" fill="none" stroke="#fff" stroke-width="3.4" stroke-linecap="round"/>
<rect x="612.2" y="2307.9" width="42.8" height="52.2" rx="1.5" fill="#6b6b6b"/>
<rect x="619.5" y="2306.6" width="29" height="4" fill="#fff"/>
<rect x="622" y="2305.3" width="24.5" height="3.4" rx="1" fill="#6b6b6b"/>
<circle cx="625.7" cy="2325.3" r="8.6" fill="none" stroke="#fff" stroke-width="1.8"/>
<path d="M621.2 2325.6 L624.3 2328.8 L630.4 2322.3" fill="none" stroke="#fff" stroke-width="1.8"/>
<g stroke="#fff" stroke-width="1.6"><line x1="637" y1="2318.8" x2="638.6" y2="2318.8"/><line x1="641" y1="2318.8" x2="650" y2="2318.8"/><line x1="637" y1="2325.9" x2="645" y2="2325.9"/><line x1="647.5" y1="2325.9" x2="649.5" y2="2325.9"/><line x1="635.5" y1="2333.3" x2="638.5" y2="2333.3"/><line x1="641" y1="2333.3" x2="650" y2="2333.3"/><line x1="618.3" y1="2343" x2="625" y2="2343"/><line x1="627.3" y1="2343" x2="629" y2="2343"/><line x1="631.5" y1="2343" x2="644" y2="2343"/><line x1="646" y1="2343" x2="650" y2="2343"/><line x1="618.3" y1="2351.4" x2="629.5" y2="2351.4"/><line x1="632" y1="2351.4" x2="638" y2="2351.4"/><line x1="640" y1="2351.4" x2="641.5" y2="2351.4"/><line x1="643.5" y1="2351.4" x2="650" y2="2351.4"/></g>
<g fill="#6b6b6b" stroke="#fff" stroke-width="2.6" paint-order="stroke"><path d="M587 2369.5 L587 2362 C587 2357 592 2355 602 2354.5 C612 2355 618.5 2357 618.5 2362 L618.5 2369.5 Z"/><rect x="598" y="2349" width="9" height="6" rx="2"/><ellipse cx="602.2" cy="2332.4" rx="11.8" ry="16.6"/></g>
<path d="M589.5 2333.5 C593 2333 597 2331 600 2329 C604 2326 608 2325 612 2323.5" fill="none" stroke="#fff" stroke-width="1.8"/>
<path d="M589 2333.6 L615.8 2333.6" fill="none" stroke="#fff" stroke-width="1.8"/>
<rect x="588" y="2332" width="28.5" height="4" rx="2" fill="#6b6b6b"/>
<circle cx="869.6" cy="2337.5" r="30" fill="#6b6b6b"/><line x1="874.40" y1="2325.90" x2="839.93" y2="2325.90" stroke="#fff" stroke-width="2.2"/><line x1="881.20" y1="2332.70" x2="856.82" y2="2308.32" stroke="#fff" stroke-width="2.2"/><line x1="881.20" y1="2342.30" x2="881.20" y2="2307.83" stroke="#fff" stroke-width="2.2"/><line x1="874.40" y1="2349.10" x2="898.78" y2="2324.72" stroke="#fff" stroke-width="2.2"/><line x1="864.80" y1="2349.10" x2="899.27" y2="2349.10" stroke="#fff" stroke-width="2.2"/><line x1="858.00" y1="2342.30" x2="882.38" y2="2366.68" stroke="#fff" stroke-width="2.2"/><line x1="858.00" y1="2332.70" x2="858.00" y2="2367.17" stroke="#fff" stroke-width="2.2"/><line x1="864.80" y1="2325.90" x2="840.42" y2="2350.28" stroke="#fff" stroke-width="2.2"/><polygon points="874.40,2325.90 881.20,2332.70 881.20,2342.30 874.40,2349.10 864.80,2349.10 858.00,2342.30 858.00,2332.70 864.80,2325.90" fill="#fff"/>
<circle cx="1116.3" cy="2324" r="14.8" fill="#6b6b6b"/>
<path d="M1092.5 2360 C1092.5 2348 1103 2341 1116.8 2341 C1130.6 2341 1141.4 2348 1141.4 2360 Q1141.4 2366.5 1135 2366.5 L1099 2366.5 Q1092.5 2366.5 1092.5 2360 Z" fill="#6b6b6b"/>
</svg>
<div class="abs" style="left:400px;top:2492px;width:443px;height:15px;background:#000;border-radius:8px"></div>
<div class="abs" style="left:1115px;top:2419.5px;width:88px;height:35.5px;border-radius:18px;background:#fafafa;border:1.5px solid #f2f2f2"></div>
<div class="abs" style="left:1127px;top:2421px;font-size:24px;line-height:32px;color:#f0f0f0;font-weight:700;white-space:nowrap">小红书</div>
<div class="abs" style="left:938px;top:2473px;font-size:26.5px;line-height:34px;color:#ebebeb;font-weight:700;white-space:nowrap">小红书号：919855872</div>
</body></html>
